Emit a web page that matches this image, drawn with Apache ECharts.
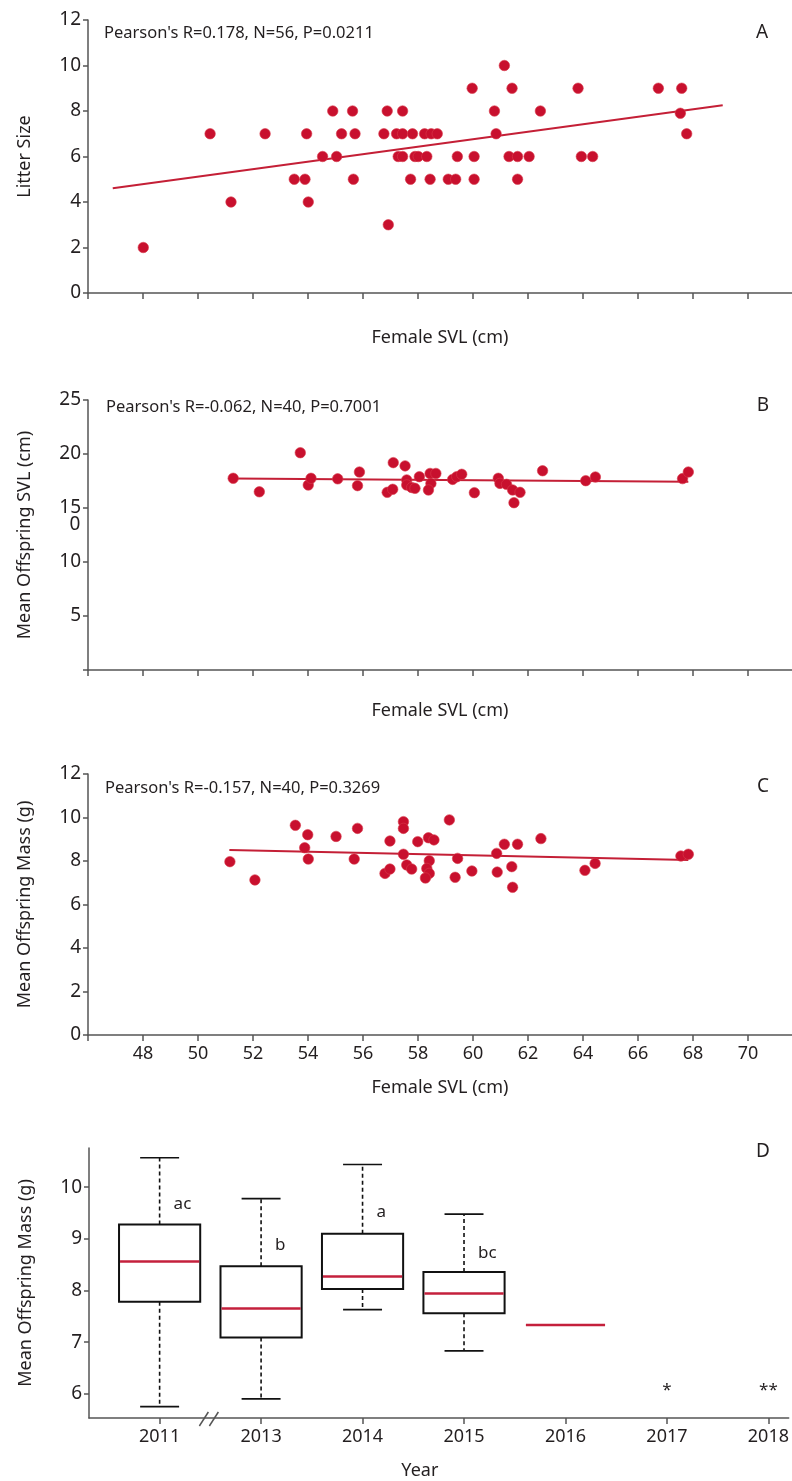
<!DOCTYPE html>
<html><head><meta charset="utf-8">
<script src="https://cdn.jsdelivr.net/npm/echarts@6/dist/echarts.min.js"></script>
<style>html,body{margin:0;padding:0;background:#fff;overflow:hidden;} #c{width:792px;height:1481px;}</style>
</head><body><div id="c"></div>
<script>
// ---------- Panel A: Litter size vs female SVL ----------
const aSVL    = [48.01, 56.92, 51.2, 54.01,
  53.5, 53.89, 55.65, 57.73, 58.44, 59.1, 59.37, 60.04, 61.62,
  54.53, 55.04, 57.28, 57.44, 57.89, 58.01, 58.32, 59.43, 60.04, 61.31, 61.62, 62.04, 63.94, 64.35,
  50.44, 52.44, 53.95, 55.22, 55.71, 56.76, 57.22, 57.44, 57.8, 58.24, 58.48, 58.7, 60.84, 67.77,
  54.9, 55.62, 56.88, 57.44, 60.78, 62.45, 67.54,
  59.97, 61.42, 63.82, 66.74, 67.59,
  61.14];
const aLitter = [2, 3, 4, 4,
  5, 5, 5, 5, 5, 5, 5, 5, 5,
  6, 6, 6, 6, 6, 6, 6, 6, 6, 6, 6, 6, 6, 6,
  7, 7, 7, 7, 7, 7, 7, 7, 7, 7, 7, 7, 7, 7,
  8, 8, 8, 8, 8, 8, 7.9,
  9, 9, 9, 9, 9,
  10];
const aFitX = [46.9, 69.08];
const aFitY = [4.6, 8.25];

// ---------- Panel B: Mean offspring SVL vs female SVL ----------
const bSVL    = [51.28, 52.23, 53.72, 54.01, 54.11, 55.08, 55.8, 55.87, 56.88, 57.08, 57.1, 57.53, 57.59, 57.59,
  57.77, 57.89, 58.05, 58.44, 58.65, 58.47, 58.38, 59.26, 59.41, 59.59, 60.05, 60.92, 60.98, 61.22,
  61.44, 61.71, 61.49, 62.53, 64.1, 64.45, 67.62, 67.83];
const bOffSVL = [17.75, 16.5, 20.12, 17.13, 17.75, 17.7, 17.07, 18.33, 16.45, 16.73, 19.2, 18.9, 17.6, 17.13,
  16.9, 16.82, 17.9, 18.2, 18.2, 17.28, 16.67, 17.65, 17.9, 18.12, 16.42, 17.75, 17.28, 17.19,
  16.67, 16.45, 15.49, 18.45, 17.53, 17.87, 17.72, 18.33];
const bFitX = [51.28, 67.83];
const bFitY = [17.72, 17.44];

// ---------- Panel C: Mean offspring mass vs female SVL ----------
const cSVL  = [51.16, 52.07, 53.54, 53.99, 53.88, 54.01, 55.02, 55.8, 55.68, 56.8, 56.98, 56.98, 57.47, 57.47,
  57.47, 57.59, 57.77, 57.99, 58.38, 58.58, 58.41, 58.32, 58.41, 58.27, 59.14, 59.44, 59.35, 59.96,
  60.86, 61.14, 61.62, 60.88, 61.41, 61.44, 62.47, 64.07, 64.44, 67.56, 67.83];
const cMass = [7.97, 7.13, 9.64, 9.21, 8.61, 8.09, 9.13, 9.5, 8.09, 7.43, 7.63, 8.92, 9.81, 9.5,
  8.31, 7.82, 7.63, 8.89, 9.07, 8.97, 8.01, 7.66, 7.43, 7.22, 9.89, 8.12, 7.25, 7.54,
  8.35, 8.77, 8.77, 7.49, 7.74, 6.79, 9.03, 7.57, 7.89, 8.23, 8.31];
const cFitX = [51.14, 67.83];
const cFitY = [8.51, 8.05];

// x tick labels (Female SVL, cm)
const svlTicks  = [46, 48, 50, 52, 54, 56, 58, 60, 62, 64, 66, 68, 70];
const svlLabels = [48, 50, 52, 54, 56, 58, 60, 62, 64, 66, 68, 70];

// ---------- Panel D: boxplot by year ----------
const years   = ['2011', '2013', '2014', '2015', '2016', '2017', '2018'];
const boxMin  = [5.75, 5.90, 7.63, 6.83, 7.33, null, null];
const boxQ1   = [7.78, 7.09, 8.03, 7.56, 7.33, null, null];
const boxMed  = [8.56, 7.65, 8.27, 7.94, 7.33, null, null];
const boxQ3   = [9.28, 8.47, 9.10, 8.36, 7.33, null, null];
const boxMax  = [10.57, 9.78, 10.44, 9.48, 7.33, null, null];
const letters = ['ac', 'b', 'a', 'bc', '', '*', '**'];
const letterY = [9.68, 8.88, 9.51, 8.72, null, 6.14, 6.14];

// ---------- styling ----------
const FONT = '"Noto Sans", "Open Sans", sans-serif';
const TXT = '#231f20';
const AX = '#555555';
const RED = '#c8102e';
const LINE_RED = '#c41f36';

function xAxisSVL(gridIndex, showLabels, nameGap) {
  return {
    type: 'value', gridIndex, min: 46, max: 71.6,
    name: 'Female SVL (cm)', nameLocation: 'middle', nameGap,
    nameTextStyle: { fontFamily: FONT, fontSize: 18, color: TXT },
    axisLine: { show: true, onZero: false, lineStyle: { color: AX, width: 1.5 } },
    axisTick: { show: true, length: 6, customValues: svlTicks, lineStyle: { color: AX, width: 1.5 } },
    axisLabel: { show: showLabels, customValues: svlLabels, margin: 10, fontFamily: FONT, fontSize: 18, color: TXT },
    splitLine: { show: false }
  };
}
function yAxisBase(gridIndex, name, min, max, ticks, labels) {
  return {
    type: 'value', gridIndex, min, max,
    name, nameLocation: 'middle', nameGap: 54,
    nameTextStyle: { fontFamily: FONT, fontSize: 18, color: TXT },
    axisLine: { show: true, onZero: false, lineStyle: { color: AX, width: 1.5 } },
    axisTick: { show: true, length: 5, customValues: ticks, lineStyle: { color: AX, width: 1.5 } },
    axisLabel: { customValues: labels, margin: 7, fontFamily: FONT, fontSize: 19, color: TXT },
    splitLine: { show: false }
  };
}
function pts(xs, ys) { return xs.map((x, i) => [x, ys[i]]); }
function scatter(idx, xs, ys) {
  return { type: 'scatter', xAxisIndex: idx, yAxisIndex: idx, data: pts(xs, ys), symbolSize: 10.5,
    itemStyle: { color: RED, opacity: 1, borderColor: '#d83a4c', borderWidth: 0.6 }, z: 3 };
}
function fit(idx, xs, ys) {
  return { type: 'line', xAxisIndex: idx, yAxisIndex: idx, data: pts(xs, ys), symbol: 'none',
    lineStyle: { color: LINE_RED, width: 2 }, z: 2, silent: true };
}

const chart = echarts.init(document.getElementById('c'), null, { renderer: 'canvas' });

const boxData = years.map((y, i) => [i, boxMin[i], boxQ1[i], boxMed[i], boxQ3[i], boxMax[i]])
  .filter(d => d[3] != null);
const letterData = years.map((y, i) => [i, letterY[i]]).filter(d => d[1] != null);

const option = {
  animation: false,
  backgroundColor: '#fff',
  textStyle: { fontFamily: FONT },
  grid: [
    { left: 88, top: 20, width: 704, height: 273 },
    { left: 88, top: 400, width: 704, height: 270 },
    { left: 88, top: 774, width: 704, height: 261 },
    { left: 89, top: 1148, width: 703, height: 270 }
  ],
  xAxis: [
    xAxisSVL(0, false, 36),
    xAxisSVL(1, false, 32),
    xAxisSVL(2, true, 44),
    {
      type: 'value', gridIndex: 3, min: -0.696, max: 6.2,
      name: 'Year', nameLocation: 'middle', nameGap: 44,
      nameTextStyle: { fontFamily: FONT, fontSize: 18, color: TXT, padding: [0, 38, 0, 0] },
      axisLine: { show: true, onZero: false, lineStyle: { color: AX, width: 1.5 } },
      axisTick: { show: true, length: 6, customValues: years.map((y, i) => i), lineStyle: { color: AX, width: 1.5 } },
      axisLabel: { customValues: years.map((y, i) => i), margin: 10, fontFamily: FONT, fontSize: 18, color: TXT,
        formatter: v => years[Math.round(v)] },
      splitLine: { show: false }
    }
  ],
  yAxis: [
    yAxisBase(0, 'Litter Size', 0, 12, [0, 2, 4, 6, 8, 10, 12], [0, 2, 4, 6, 8, 10, 12]),
    yAxisBase(1, 'Mean Offspring SVL (cm)', 0, 25, [0, 5, 10, 15, 20, 25], [5, 10, 15, 20, 25]),
    yAxisBase(2, 'Mean Offspring Mass (g)', 0, 12, [0, 2, 4, 6, 8, 10, 12], [0, 2, 4, 6, 8, 10, 12]),
    yAxisBase(3, 'Mean Offspring Mass (g)', 5.53, 10.76, [6, 7, 8, 9, 10], [6, 7, 8, 9, 10])
  ],
  series: [
    fit(0, aFitX, aFitY), scatter(0, aSVL, aLitter),
    fit(1, bFitX, bFitY), scatter(1, bSVL, bOffSVL),
    fit(2, cFitX, cFitY), scatter(2, cSVL, cMass),
    {
      type: 'custom', xAxisIndex: 3, yAxisIndex: 3, data: boxData, silent: true,
      renderItem: function (params, api) {
        const x = api.value(0);
        const vmin = api.value(1), q1 = api.value(2), med = api.value(3), q3 = api.value(4), vmax = api.value(5);
        const cx = api.coord([x, med])[0];
        const Y = v => api.coord([x, v])[1];
        const bw = api.size([1, 0])[0] * 0.8;
        const cw = bw * 0.48;
        const ch = [];
        const blk = { stroke: '#111', lineWidth: 1.6 };
        if (q3 > q1) {
          ch.push({ type: 'line', shape: { x1: cx, y1: Y(q3), x2: cx, y2: Y(vmax) }, style: { stroke: '#111', lineWidth: 1.6, lineDash: [4, 3] } });
          ch.push({ type: 'line', shape: { x1: cx, y1: Y(q1), x2: cx, y2: Y(vmin) }, style: { stroke: '#111', lineWidth: 1.6, lineDash: [4, 3] } });
          ch.push({ type: 'line', shape: { x1: cx - cw / 2, y1: Y(vmax), x2: cx + cw / 2, y2: Y(vmax) }, style: blk });
          ch.push({ type: 'line', shape: { x1: cx - cw / 2, y1: Y(vmin), x2: cx + cw / 2, y2: Y(vmin) }, style: blk });
          ch.push({ type: 'rect', shape: { x: cx - bw / 2, y: Y(q3), width: bw, height: Y(q1) - Y(q3) },
            style: { fill: 'none', stroke: '#111', lineWidth: 2 } });
        }
        ch.push({ type: 'line', shape: { x1: cx - bw / 2 + 1, y1: Y(med), x2: cx + bw / 2 - 1, y2: Y(med) },
          style: { stroke: '#c4203c', lineWidth: 2.5 } });
        return { type: 'group', children: ch };
      }
    },
    {
      type: 'custom', xAxisIndex: 3, yAxisIndex: 3, data: letterData, silent: true,
      renderItem: function (params, api) {
        const i = api.value(0);
        const p = api.coord([i, api.value(1)]);
        const t = letters[i];
        const star = t.indexOf('*') >= 0;
        return { type: 'text', x: star ? p[0] : p[0] + 14, y: star ? p[1] + 4 : p[1],
          style: { text: t, fontFamily: FONT, fontSize: 17, fill: TXT,
            align: star ? 'center' : 'left', verticalAlign: 'middle' } };
      }
    }
  ]
};
chart.setOption(option);

// panel annotations
const br = chart.convertToPixel({ gridIndex: 3 }, [0.5, 5.53]);
function txt(t, x, y, size, align) {
  return { type: 'text', x, y, silent: true,
    style: { text: t, fontFamily: FONT, fontSize: size, fill: TXT, align: align || 'left', verticalAlign: 'middle' } };
}
chart.setOption({
  graphic: [
    txt("Pearson's R=0.178, N=56, P=0.0211", 104, 33, 16.5),
    txt("Pearson's R=-0.062, N=40, P=0.7001", 106, 407, 16.5),
    txt("Pearson's R=-0.157, N=40, P=0.3269", 105, 788, 16.5),
    txt('A', 762, 33, 19, 'center'),
    txt('B', 763, 406, 19, 'center'),
    txt('C', 763, 787, 19, 'center'),
    txt('D', 763, 1152, 19, 'center'),
    txt('0', 75, 525, 19, 'center'),
    { type: 'line', silent: true, shape: { x1: br[0] - 11, y1: br[1] + 8, x2: br[0] - 2, y2: br[1] - 6 }, style: { stroke: AX, lineWidth: 1.5 } },
    { type: 'line', silent: true, shape: { x1: br[0] - 1, y1: br[1] + 8, x2: br[0] + 8, y2: br[1] - 6 }, style: { stroke: AX, lineWidth: 1.5 } }
  ]
});
</script>
</body></html>
